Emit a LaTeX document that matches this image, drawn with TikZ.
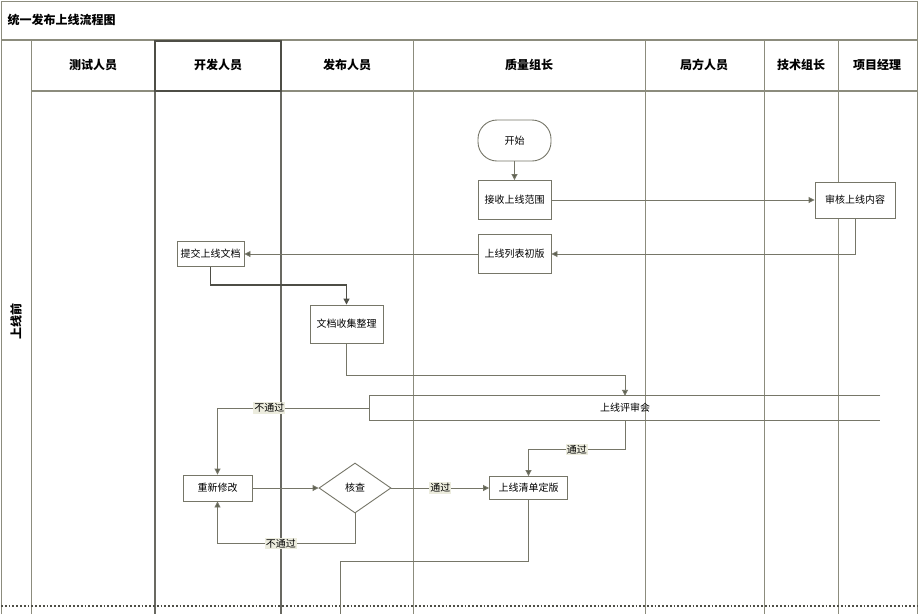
\documentclass[tikz,border=0pt]{standalone}
\usepackage{fontspec}
\setmainfont{Noto Sans CJK SC}
\usetikzlibrary{arrows.meta,shapes.geometric}

\definecolor{gridc}{RGB}{140,140,125}
\definecolor{darkc}{RGB}{78,78,70}
\definecolor{flowc}{RGB}{118,118,104}
\definecolor{tipc}{RGB}{92,96,80}
\definecolor{lblc}{RGB}{236,236,222}

\tikzset{
  gridline/.style={draw=gridc, line width=1pt},
  darkline/.style={draw=darkc, line width=1.2pt},
  box/.style={draw=flowc, line width=0.9pt, fill=white, inner sep=0pt,
    font=\fontsize{10}{12}\selectfont},
  term/.style={box, rounded corners=19pt},
  decision/.style={diamond, draw=flowc, line width=0.9pt, fill=white, inner sep=0pt,
    font=\fontsize{10}{12}\selectfont},
  flow/.style={draw=flowc, line width=0.9pt,
    -{Triangle[length=6pt,width=6pt,fill=tipc]}},
  plain/.style={draw=flowc, line width=0.9pt},
  lbl/.style={fill=lblc, inner sep=1pt, font=\fontsize{10}{12}\selectfont},
  head/.style={font=\bfseries\fontsize{12}{14}\selectfont},
}

\begin{document}
\begin{tikzpicture}[x=1pt,y=-1pt]
\useasboundingbox (0,0) rectangle (924,614);
\fill[white] (0,0) rectangle (924,614);

% frame and lanes
\draw[gridline] (1,614) -- (1,1) -- (917,1) -- (917,614);
\draw[gridline, line width=1.6pt] (1,40) -- (917,40);
\draw[gridline, line width=1.6pt] (31,91) -- (917,91);
\foreach \x in {31,413,645,764,838}
  \draw[gridline] (\x,40) -- (\x,614);
\foreach \x in {155,281}
  \draw[draw=darkc!85, line width=1.1pt] (\x,40) -- (\x,614);
\draw[darkline] (155,41) rectangle (281,91);
\draw[draw=darkc, line width=1.8pt, dotted] (1,606) -- (917,606);

% titles
\node[head, anchor=west] (title) at (4,20) {统一发布上线流程图};
\node[head] (h1) at (93,65) {测试人员};
\node[head] (h2) at (218,65) {开发人员};
\node[head] (h3) at (347,65) {发布人员};
\node[head] (h4) at (529,65) {质量组长};
\node[head] (h5) at (704,65) {局方人员};
\node[head] (h6) at (801,65) {技术组长};
\node[head] (h7) at (877,65) {项目经理};
\node[head, rotate=90] (phase) at (16,321) {上线前};

% process steps
\node[term, minimum width=73pt, minimum height=41pt] (start) at (514.5,140.5) {开始};
\node[box, minimum width=73pt, minimum height=39pt] (recv) at (514.5,200) {接收上线范围};
\node[box, minimum width=73pt, minimum height=39pt] (draft) at (514.5,254) {上线列表初版};
\node[box, minimum width=80pt, minimum height=36pt] (audit) at (855,200) {审核上线内容};
\node[box, minimum width=67pt, minimum height=25pt] (submit) at (210.5,254) {提交上线文档};
\node[box, minimum width=73pt, minimum height=38pt] (collect) at (346.5,324) {文档收集整理};
\node[minimum width=510pt, minimum height=24pt, inner sep=0pt,
      font=\fontsize{10}{12}\selectfont] (review) at (625,408) {上线评审会};
\draw[plain] (review.north east) -- (review.north west) -- (review.south west) -- (review.south east);
\node[box, minimum width=69pt, minimum height=26pt] (rework) at (217.5,488) {重新修改};
\node[decision, minimum width=72pt, minimum height=50pt] (check) at (355,488) {核查};
\node[box, minimum width=78pt, minimum height=23pt] (final) at (528.5,488) {上线清单定版};
\coordinate (out) at (340,614);

% connectors
\draw[flow] (start) -- (recv);
\draw[flow] (recv.east) -- (audit.west);
\draw[flow] (audit.south) |- (draft.east);
\draw[flow] (draft.west) -- (submit.east);
\draw[flow, draw=darkc, line width=1.2pt] (submit.south) -- ++(0,18) -| (collect.north);
\draw[flow] (collect.south) -- ++(0,32) -| (review.north);
\draw[flow] (review.south) -- ++(0,29) -| node[lbl, pos=0.25] {通过} (final.north);
\draw[flow] (review.west) -| node[lbl, pos=0.33] {不通过} (rework.north);
\draw[flow] (rework.east) -- (check.west);
\draw[flow] (check.east) -- node[lbl] {通过} (final.west);
\draw[flow] (check.south) -- ++(0,30) -| node[lbl, pos=0.27] {不通过} (rework.south);
\draw[plain] (final.south) -- ++(0,61) -| (out);
\end{tikzpicture}
\end{document}
